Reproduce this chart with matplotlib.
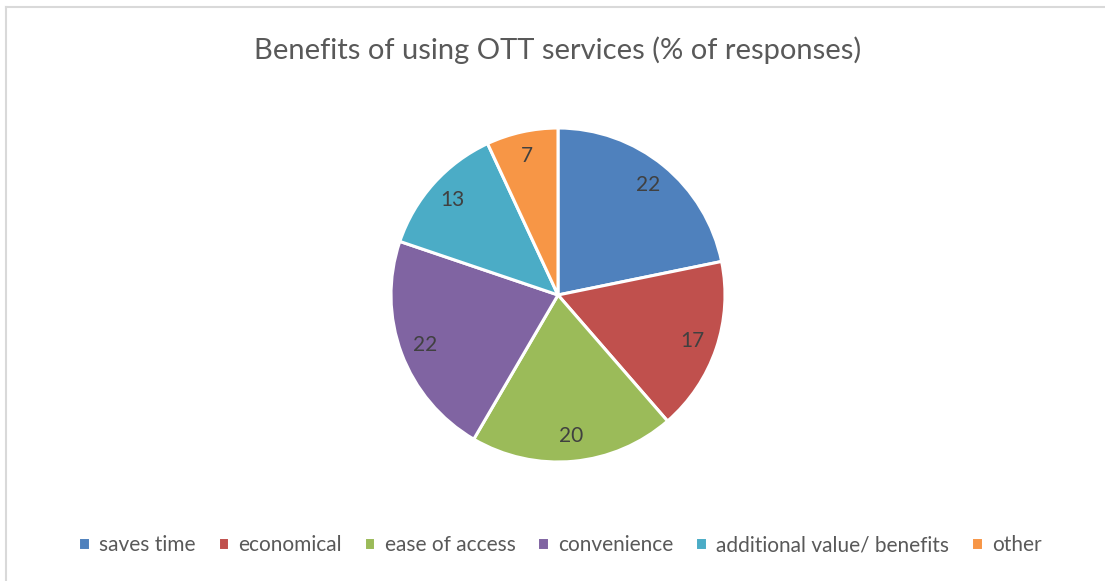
import matplotlib.pyplot as plt
from matplotlib.lines import Line2D

# data
labels = ['saves time', 'economical', 'ease of access', 'convenience',
          'additional value/ benefits', 'other']
values = [22, 17, 20, 22, 13, 7]
colors = ['#4F81BD', '#C0504D', '#9BBB59', '#8064A2', '#4BACC6', '#F79646']

plt.rcParams['font.family'] = ['Lato', 'DejaVu Sans']

W, H = 1105, 581
fig = plt.figure(figsize=(W / 100, H / 100), dpi=100)

# pie area: centre ~ (558, 295) px, radius ~167 px
cx, cy, r = 558, 295, 167
ax = fig.add_axes([(cx - r) / W, (H - cy - r) / H, 2 * r / W, 2 * r / H])
wedges, texts = ax.pie(values, colors=colors, startangle=90, counterclock=False,
                       labels=[str(v) for v in values], labeldistance=0.85,
                       wedgeprops=dict(edgecolor='white', linewidth=2.2),
                       textprops=dict(color='#404040', fontsize=15))
for t in texts:
    t.set_horizontalalignment('center')
    t.set_verticalalignment('center')
ax.set_xlim(-1, 1)
ax.set_ylim(-1, 1)

fig.text(558 / W, 1 - 50 / H, 'Benefits of using OTT services (% of responses)',
         ha='center', va='center', fontsize=21, color='#595959')

fig.legend(wedges, labels, loc='center', bbox_to_anchor=(560 / W, 1 - 545 / H),
           ncol=6, frameon=False, fontsize=15, labelcolor='#595959',
           handlelength=0.55, handleheight=0.55, handletextpad=0.45,
           columnspacing=1.05)

# thin border on top and left, as in the source
fig.add_artist(Line2D([6 / W, 6 / W], [0, 1 - 7 / H], transform=fig.transFigure,
                      color='#D9D9D9', lw=1.5))
fig.add_artist(Line2D([6 / W, 1], [1 - 7 / H, 1 - 7 / H], transform=fig.transFigure,
                      color='#D9D9D9', lw=1.5))

fig.savefig('out.png', dpi=100, facecolor='white')
